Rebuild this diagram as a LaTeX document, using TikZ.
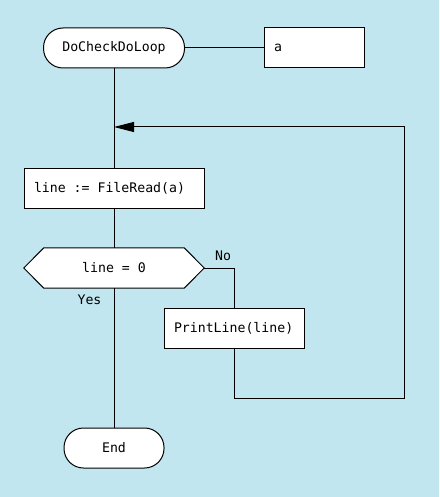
\documentclass[tikz,border=0pt]{standalone}
\usepackage{fontspec}
\setmonofont{DejaVu Sans Mono}[WordSpace={1,0,0},Kerning=Off,Ligatures={NoCommon,NoContextual}]
\usetikzlibrary{arrows.meta}
\definecolor{bgblue}{RGB}{193,230,239}
\frenchspacing
\newcommand{\msp}{\hspace*{0.602em}}
\begin{document}
\begin{tikzpicture}[x=1pt,y=-1pt,
  every node/.style={font=\ttfamily\fontsize{13.2}{15}\selectfont},
  line/.style={draw=black,line width=1pt},
  term/.style={line,fill=white,rounded corners=19.5pt,minimum height=40pt,inner sep=0pt},
  procbox/.style={line,fill=white,minimum height=40pt,inner xsep=10pt,inner ysep=0pt,align=left},
  lbl/.style={inner sep=1pt}
]
\fill[bgblue] (0,0) rectangle (439,497);
\useasboundingbox (0,0) rectangle (439,497);

\node[term,minimum width=141pt] (start) at (114,48) {DoCheckDoLoop};
\node[procbox,text width=80pt] (a) at (314,48) {a};
\node[procbox,text width=160pt] (read) at (114,188) {\mbox{line\msp{}:=\msp{}FileRead(a)}};
\node[minimum width=180pt,minimum height=40pt,inner sep=0pt] (dec) at (114,268) {};
\node[procbox,text width=120pt] (print) at (234,328) {PrintLine(line)};
\node[term,minimum width=100pt] (end) at (114,448) {End};

\coordinate (merge) at (114,127);
\coordinate (loopbr) at (404,398);

\draw[line,fill=white] (dec.west) -- ([xshift=20pt]dec.north west) -- ([xshift=-20pt]dec.north east)
  -- (dec.east) -- ([xshift=-20pt]dec.south east) -- ([xshift=20pt]dec.south west) -- cycle;
\node (dectext) at (dec) {line\msp{}=\msp{}0};

\draw[line] (start.east) -- (a.west);
\draw[line] (start.south) -- (read.north);
\draw[line] (read.south) -- (dec.north);
\draw[line] (dec.south) -- (end.north);
\draw[line] (dec.east) -| (print.north);
\draw[line,-{Triangle[length=20pt,width=10pt]}] (print.south) |- (loopbr) |- (merge);

\node[lbl] (no) at (223,256) {No};
\node[lbl] (yes) at (89.5,300) {Yes};
\end{tikzpicture}
\end{document}
